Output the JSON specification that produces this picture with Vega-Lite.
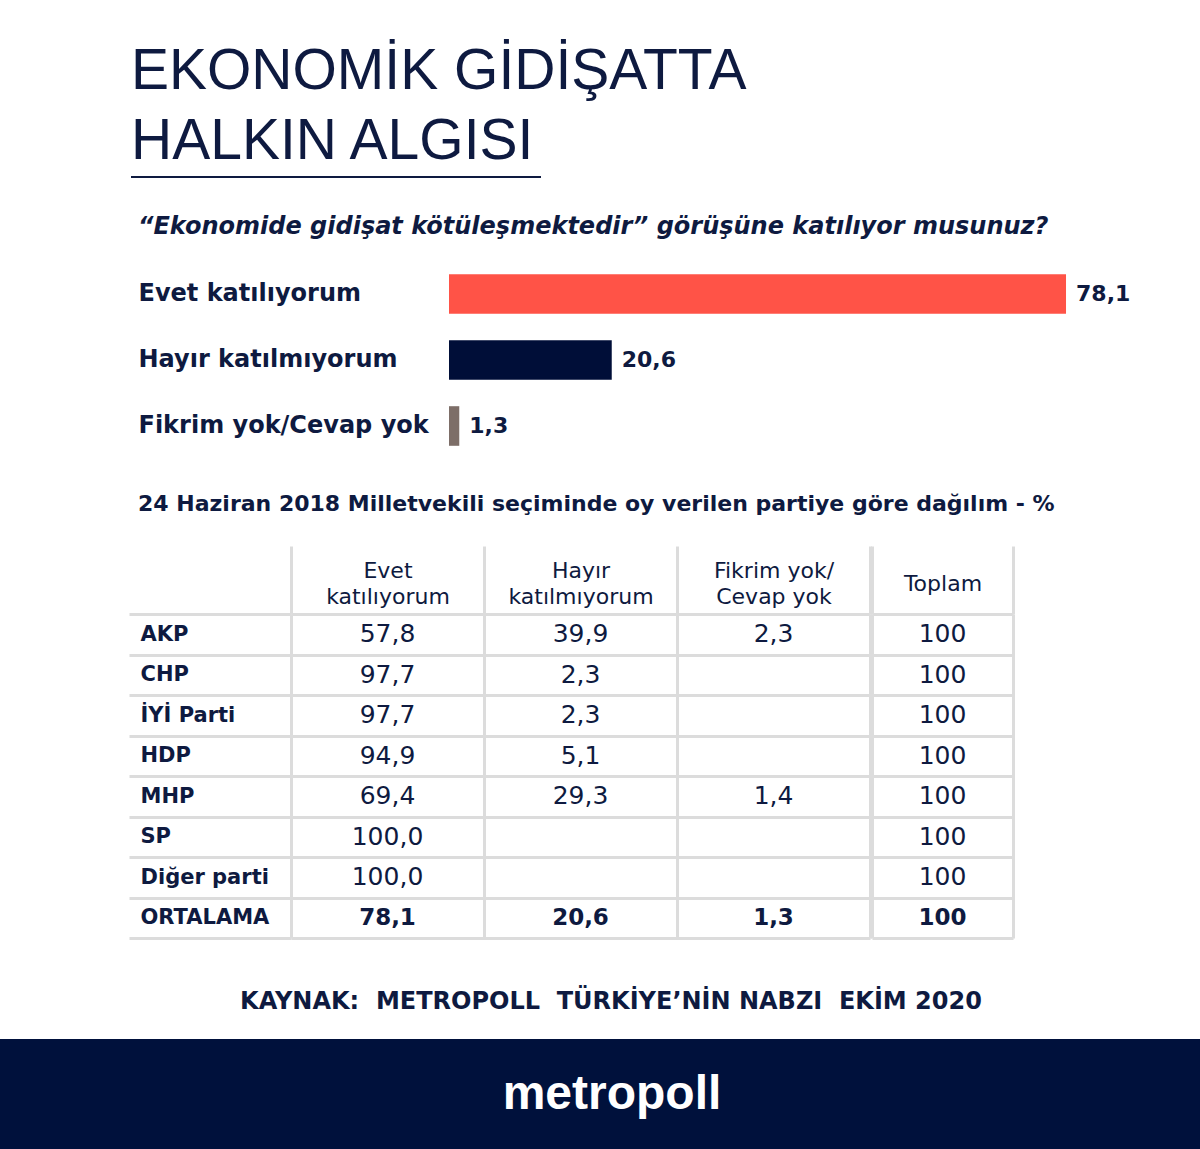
{
  "$schema": "https://vega.github.io/schema/vega-lite/v6.json",
  "background": "white",
  "padding": {"top": 43, "left": 0, "right": 0, "bottom": 0},
  "config": {
    "view": {"stroke": null},
    "locale": {"number": {"decimal": ",", "thousands": ".", "grouping": [3], "currency": ["", " TL"]}},
    "concat": {"spacing": 0}
  },
  "spacing": 37,
  "vconcat": [
    {
      "spacing": 0,
      "hconcat": [
        {"width": 130, "height": 2, "data": {"values": []}, "mark": "point", "encoding": {}},
        {
          "width": 410,
          "height": 2,
          "title": {
            "text": ["EKONOMİK GİDİŞATTA", "HALKIN ALGISI"],
            "anchor": "start",
            "frame": "group",
            "font": "Liberation Sans",
            "fontSize": 57,
            "fontWeight": "normal",
            "color": "#0e1a40",
            "lineHeight": 70,
            "baseline": "bottom",
            "offset": -52
          },
          "data": {"values": [{"cizgi": "alt çizgi"}]},
          "mark": {"type": "rule", "color": "#0e1a40", "strokeWidth": 2},
          "encoding": {
            "y": {
              "field": "cizgi",
              "type": "nominal",
              "scale": {"type": "point", "padding": 0, "align": 0.5},
              "axis": null
            }
          }
        }
      ]
    },
    {
      "spacing": 33,
      "vconcat": [
        {
          "spacing": 0,
          "hconcat": [
            {"width": 138, "height": 198, "data": {"values": []}, "mark": "point", "encoding": {}},
            {
              "width": 751,
              "height": 198,
              "title": {
                "text": "“Ekonomide gidişat kötüleşmektedir” görüşüne katılıyor musunuz?",
                "anchor": "start",
                "frame": "group",
                "dx": -311,
                "offset": -2,
                "baseline": "bottom",
                "font": "DejaVu Sans",
                "fontSize": 24,
                "fontWeight": "bold",
                "fontStyle": "italic",
                "color": "#0e1a40"
              },
              "data": {
                "values": [
                  {"yanit": "Evet katılıyorum", "oran": 78.1},
                  {"yanit": "Hayır katılmıyorum", "oran": 20.6},
                  {"yanit": "Fikrim yok/Cevap yok", "oran": 1.3}
                ]
              },
              "encoding": {
                "y": {
                  "field": "yanit",
                  "type": "nominal",
                  "sort": ["Evet katılıyorum", "Hayır katılmıyorum", "Fikrim yok/Cevap yok"],
                  "scale": {"paddingInner": 0.4, "paddingOuter": 0.2},
                  "axis": {
                    "title": null,
                    "domain": false,
                    "ticks": false,
                    "tickSize": 0,
                    "labelAlign": "left",
                    "labelBaseline": "middle",
                    "labelPadding": 311,
                    "labelFont": "DejaVu Sans",
                    "labelFontSize": 24,
                    "labelFontWeight": "bold",
                    "labelColor": "#0e1a40",
                    "labelLimit": 0,
                    "minExtent": 311,
                    "maxExtent": 311
                  }
                },
                "x": {
                  "field": "oran",
                  "type": "quantitative",
                  "scale": {"domain": [0, 95.06], "nice": false, "zero": true},
                  "axis": null
                }
              },
              "layer": [
                {
                  "mark": {"type": "bar"},
                  "encoding": {
                    "color": {
                      "field": "yanit",
                      "type": "nominal",
                      "scale": {
                        "domain": ["Evet katılıyorum", "Hayır katılmıyorum", "Fikrim yok/Cevap yok"],
                        "range": ["#ff5347", "#000e38", "#7d6e68"]
                      },
                      "legend": null
                    }
                  }
                },
                {
                  "mark": {"type": "text", "align": "left", "baseline": "middle", "dx": 10, "font": "DejaVu Sans", "fontSize": 22, "fontWeight": "bold", "color": "#0e1a40"},
                  "encoding": {"text": {"field": "oran", "type": "quantitative", "format": ".1f"}}
                }
              ]
            }
          ]
        },
        {
          "spacing": 50,
          "vconcat": [
            {
              "title": {
                "text": "24 Haziran 2018 Milletvekili seçiminde oy verilen partiye göre dağılım - %",
                "anchor": "start",
                "dx": 138,
                "offset": 7,
                "baseline": "bottom",
                "font": "DejaVu Sans",
                "fontSize": 22,
                "fontWeight": "bold",
                "color": "#0e1a40"
              },
              "data": {
                "values": [
                  {"parti": "AKP", "kolon": "Evet katılıyorum", "deger": 57.8},
                  {"parti": "AKP", "kolon": "Hayır katılmıyorum", "deger": 39.9},
                  {"parti": "AKP", "kolon": "Fikrim yok/Cevap yok", "deger": 2.3},
                  {"parti": "AKP", "kolon": "Toplam", "deger": 100},
                  {"parti": "CHP", "kolon": "Evet katılıyorum", "deger": 97.7},
                  {"parti": "CHP", "kolon": "Hayır katılmıyorum", "deger": 2.3},
                  {"parti": "CHP", "kolon": "Toplam", "deger": 100},
                  {"parti": "İYİ Parti", "kolon": "Evet katılıyorum", "deger": 97.7},
                  {"parti": "İYİ Parti", "kolon": "Hayır katılmıyorum", "deger": 2.3},
                  {"parti": "İYİ Parti", "kolon": "Toplam", "deger": 100},
                  {"parti": "HDP", "kolon": "Evet katılıyorum", "deger": 94.9},
                  {"parti": "HDP", "kolon": "Hayır katılmıyorum", "deger": 5.1},
                  {"parti": "HDP", "kolon": "Toplam", "deger": 100},
                  {"parti": "MHP", "kolon": "Evet katılıyorum", "deger": 69.4},
                  {"parti": "MHP", "kolon": "Hayır katılmıyorum", "deger": 29.3},
                  {"parti": "MHP", "kolon": "Fikrim yok/Cevap yok", "deger": 1.4},
                  {"parti": "MHP", "kolon": "Toplam", "deger": 100},
                  {"parti": "SP", "kolon": "Evet katılıyorum", "deger": 100.0},
                  {"parti": "SP", "kolon": "Toplam", "deger": 100},
                  {"parti": "Diğer parti", "kolon": "Evet katılıyorum", "deger": 100.0},
                  {"parti": "Diğer parti", "kolon": "Toplam", "deger": 100},
                  {"parti": "ORTALAMA", "kolon": "Evet katılıyorum", "deger": 78.1},
                  {"parti": "ORTALAMA", "kolon": "Hayır katılmıyorum", "deger": 20.6},
                  {"parti": "ORTALAMA", "kolon": "Fikrim yok/Cevap yok", "deger": 1.3},
                  {"parti": "ORTALAMA", "kolon": "Toplam", "deger": 100}
                ]
              },
              "spacing": 0,
              "resolve": {"scale": {"x": "independent", "y": "independent"}},
              "hconcat": [
                {"width": 127, "height": 324, "data": {"values": []}, "mark": "point", "encoding": {}},
                {
                  "spacing": -4,
                  "resolve": {"scale": {"x": "independent", "y": "independent"}},
                  "hconcat": [
                    {
                      "width": 579,
                      "height": 324,
                      "transform": [{"filter": "datum.kolon != 'Toplam'"}],
                      "encoding": {
                        "x": {
                          "field": "kolon",
                          "type": "nominal",
                          "scale": {"domain": ["Evet katılıyorum", "Hayır katılmıyorum", "Fikrim yok/Cevap yok"], "paddingInner": 0, "paddingOuter": 0},
                          "axis": {
                            "orient": "top",
                            "title": null,
                            "domain": false,
                            "ticks": true,
                            "tickSize": 68,
                            "tickBand": "extent",
                            "tickColor": "#dcdcdc",
                            "tickWidth": 3,
                            "grid": true,
                            "gridColor": "#dcdcdc",
                            "gridWidth": 3,
                            "labelExpr": "datum.label == 'Fikrim yok/Cevap yok' ? ['Fikrim yok/', 'Cevap yok'] : split(datum.label, ' ')",
                            "labelFont": "DejaVu Sans",
                            "labelFontSize": 22,
                            "labelColor": "#0e1a40",
                            "labelBaseline": "alphabetic",
                            "labelLineHeight": 26,
                            "labelPadding": -31,
                            "labelAngle": 0,
                            "labelLimit": 0,
                            "minExtent": 68,
                            "maxExtent": 68
                          }
                        },
                        "y": {
                          "field": "parti",
                          "type": "nominal",
                          "scale": {"domain": ["AKP", "CHP", "İYİ Parti", "HDP", "MHP", "SP", "Diğer parti", "ORTALAMA"], "paddingInner": 0, "paddingOuter": 0},
                          "axis": {
                            "title": null,
                            "domain": false,
                            "ticks": true,
                            "tickSize": 162,
                            "tickBand": "extent",
                            "tickColor": "#dcdcdc",
                            "tickWidth": 3,
                            "grid": true,
                            "gridColor": "#dcdcdc",
                            "gridWidth": 3,
                            "labelAlign": "left",
                            "labelBaseline": "middle",
                            "labelPadding": -11,
                            "labelFont": "DejaVu Sans",
                            "labelFontSize": 21,
                            "labelFontWeight": "bold",
                            "labelColor": "#0e1a40",
                            "labelLimit": 0,
                            "minExtent": 162,
                            "maxExtent": 162
                          }
                        }
                      },
                      "layer": [
                        {
                          "transform": [{"filter": "datum.parti != 'ORTALAMA'"}],
                          "mark": {"type": "text", "font": "DejaVu Sans", "fontSize": 25, "color": "#0e1a40", "baseline": "middle"},
                          "encoding": {"text": {"field": "deger", "type": "quantitative", "format": ".1f"}}
                        },
                        {
                          "transform": [{"filter": "datum.parti == 'ORTALAMA'"}],
                          "mark": {"type": "text", "font": "DejaVu Sans", "fontSize": 23, "fontWeight": "bold", "color": "#0e1a40", "baseline": "middle"},
                          "encoding": {"text": {"field": "deger", "type": "quantitative", "format": ".1f"}}
                        }
                      ]
                    },
                    {
                      "width": 141,
                      "height": 324,
                      "transform": [{"filter": "datum.kolon == 'Toplam'"}],
                      "encoding": {
                        "x": {
                          "field": "kolon",
                          "type": "nominal",
                          "scale": {"domain": ["Toplam"], "paddingInner": 0, "paddingOuter": 0},
                          "axis": {
                            "orient": "top",
                            "title": null,
                            "domain": false,
                            "ticks": true,
                            "tickSize": 68,
                            "tickBand": "extent",
                            "tickColor": "#dcdcdc",
                            "tickWidth": 3,
                            "grid": true,
                            "gridColor": "#dcdcdc",
                            "gridWidth": 3,
                            "labelFont": "DejaVu Sans",
                            "labelFontSize": 22,
                            "labelColor": "#0e1a40",
                            "labelBaseline": "alphabetic",
                            "labelPadding": -44,
                            "labelAngle": 0,
                            "labelLimit": 0,
                            "minExtent": 68,
                            "maxExtent": 68
                          }
                        },
                        "y": {
                          "field": "parti",
                          "type": "nominal",
                          "scale": {"domain": ["AKP", "CHP", "İYİ Parti", "HDP", "MHP", "SP", "Diğer parti", "ORTALAMA"], "paddingInner": 0, "paddingOuter": 0},
                          "axis": {
                            "title": null,
                            "domain": false,
                            "ticks": false,
                            "labels": false,
                            "tickBand": "extent",
                            "grid": true,
                            "gridColor": "#dcdcdc",
                            "gridWidth": 3,
                            "minExtent": 0,
                            "maxExtent": 0
                          }
                        }
                      },
                      "layer": [
                        {
                          "transform": [{"filter": "datum.parti != 'ORTALAMA'"}],
                          "mark": {"type": "text", "font": "DejaVu Sans", "fontSize": 25, "color": "#0e1a40", "baseline": "middle"},
                          "encoding": {"text": {"field": "deger", "type": "quantitative", "format": "d"}}
                        },
                        {
                          "transform": [{"filter": "datum.parti == 'ORTALAMA'"}],
                          "mark": {"type": "text", "font": "DejaVu Sans", "fontSize": 23, "fontWeight": "bold", "color": "#0e1a40", "baseline": "middle"},
                          "encoding": {"text": {"field": "deger", "type": "quantitative", "format": "d"}}
                        }
                      ]
                    }
                  ]
                }
              ]
            },
            {
              "width": 1200,
              "height": 112,
              "view": {"fill": "#00113c", "stroke": null},
              "title": {
                "text": "KAYNAK:\u00a0 METROPOLL\u00a0 TÜRKİYE’NİN NABZI\u00a0 EKİM 2020",
                "anchor": "middle",
                "dx": 11,
                "offset": 1,
                "baseline": "bottom",
                "font": "DejaVu Sans",
                "fontSize": 24,
                "fontWeight": "bold",
                "color": "#0e1a40"
              },
              "data": {"values": [{"marka": "metropoll"}]},
              "mark": {"type": "text", "font": "Liberation Sans", "fontSize": 48, "fontWeight": "bold", "color": "white", "baseline": "middle", "dx": 12},
              "encoding": {"text": {"field": "marka", "type": "nominal"}}
            }
          ]
        }
      ]
    }
  ]
}
